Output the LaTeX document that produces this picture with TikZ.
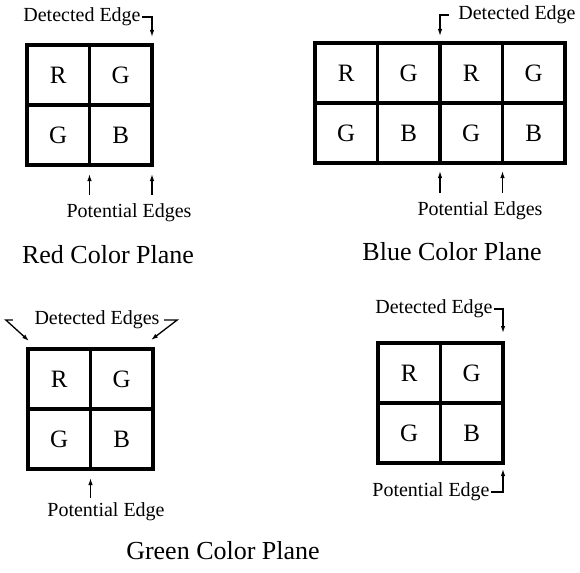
\documentclass[tikz,border=0pt]{standalone}
\usepackage{fontspec}
\setmainfont{Liberation Serif}
\usepackage{tikz}
\usetikzlibrary{arrows.meta,positioning}
\tikzset{
  cell/.style={draw, line width=3.2pt, minimum width=62.5pt, minimum height=60pt,
    inner sep=0pt, outer sep=0pt, font=\fontsize{25}{25}\selectfont},
  lbl/.style={inner sep=1.5pt, font=\fontsize{20}{20}\selectfont},
  ttl/.style={inner sep=1pt, font=\fontsize{26}{26}\selectfont},
  fl/.style={line width=1.3pt, -{Latex[length=7pt,width=4.5pt]}},
}
\begin{document}
\begin{tikzpicture}[x=1pt, y=-1pt, node distance=0pt and 0pt]
\useasboundingbox (0,0) rectangle (580,572);
% red plane
\node[cell] (r11) at (58.25,75) {R};
\node[cell, right=of r11] (r12) {G};
\node[cell, below=of r11] (r21) {G};
\node[cell, right=of r21] (r22) {B};
\node[lbl] (rdet) at (82,17) {Detected Edge};
\node[lbl] (rpot) at (129,213) {Potential Edges};
\node[ttl] (rname) at (108,255) {Red Color Plane};
\draw[fl] (rdet.east) -| ([yshift=8pt]r12.north east);
\draw[fl] ([yshift=-30pt]r22.south west) -- ([yshift=-9pt]r22.south west);
\draw[fl] ([yshift=-30pt]r22.south east) -- ([yshift=-9pt]r22.south east);
% blue plane
\node[cell] (b11) at (346.25,73) {R};
\node[cell, right=of b11] (b12) {G};
\node[cell, right=of b12] (b13) {R};
\node[cell, right=of b13] (b14) {G};
\node[cell, below=of b11] (b21) {G};
\node[cell, right=of b21] (b22) {B};
\node[cell, right=of b22] (b23) {G};
\node[cell, right=of b23] (b24) {B};
\node[lbl] (bdet) at (517,15) {Detected Edge};
\node[lbl] (bpot) at (480,211) {Potential Edges};
\node[ttl] (bname) at (452,252) {Blue Color Plane};
\draw[fl] ([xshift=-8pt]bdet.west) -| ([yshift=7pt]b13.north west);
\draw[fl] ([yshift=-30pt]b23.south west) -- ([yshift=-8pt]b23.south west);
\draw[fl] ([yshift=-30pt]b24.south west) -- ([yshift=-8pt]b24.south west);
% green plane
\node[cell] (g11) at (59.25,379) {R};
\node[cell, right=of g11] (g12) {G};
\node[cell, below=of g11] (g21) {G};
\node[cell, right=of g21] (g22) {B};
\node[lbl] (gdet) at (97,320) {Detected Edges};
\node[lbl] (gpot) at (106,512) {Potential Edge};
\node[ttl] (gname) at (223,551) {Green Color Plane};
\draw[fl] ([xshift=-20pt]gdet.west) -- ++(-7pt,0) -- ([shift={(1pt,8pt)}]g11.north west);
\draw[fl] ([xshift=3pt]gdet.east) -- ++(13pt,0) -- ([shift={(-2pt,9pt)}]g12.north east);
\draw[fl] ([yshift=-29pt]g22.south west) -- ([yshift=-9pt]g22.south west);
% fourth plane
\node[cell] (f11) at (409.25,373) {R};
\node[cell, right=of f11] (f12) {G};
\node[cell, below=of f11] (f21) {G};
\node[cell, right=of f21] (f22) {B};
\node[lbl] (fdet) at (434,309) {Detected Edge};
\node[lbl] (fpot) at (431,492) {Potential Edge};
\draw[fl] (fdet.east) -| ([yshift=10pt]f12.north east);
\draw[fl] (fpot.east) -| ([yshift=-6pt]f22.south east);
\end{tikzpicture}
\end{document}
